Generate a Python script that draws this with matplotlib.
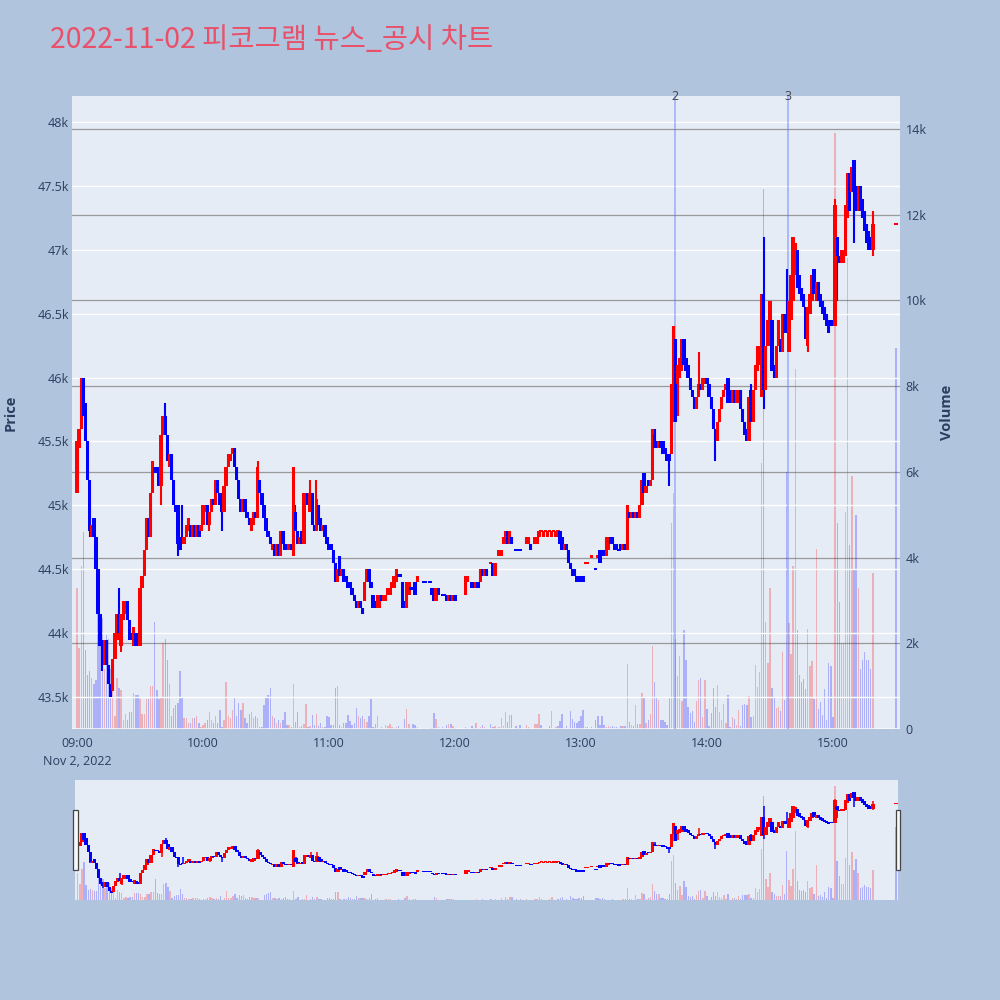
import numpy as np
import matplotlib.pyplot as plt
from matplotlib.patches import Rectangle

plt.rcParams['font.family'] = ['Open Sans', 'DejaVu Sans']

N = None
# 1-minute candles, index = minutes after 09:00 (None = no trade that minute)
opens = [
    45100, 45450, 45600, 46000, 45800, 45500, 45200, 44750, 44900, 44750,
    44500, 44150, 43950, 43750, 43950, 43750, 43600, 43550, 43800, 43950,
    44150, 43900, 44100, 44150, 44250, 44100, 44000, 43900, 44000, 43950,
    43900, 44350, 44450, 44650, 44900, 44750, 45100, 45300, 45300, 45250,
    45150, 45550, 45700, 45550, 45300, 45400, 45200, 45000, 45000, 44700,
    44750, 44700, 44750, 44800, 44850, 44750, 44850, 44750, 44850, 44800,
    44850, 44950, 45000, 44850, 44950, 45050, 45000, 45200, 45100, 45000,
    44950, 45150, 45300, 45350, 45400, 45450, 45300, 45200, 45050, 44950,
    45050, 44950, 44900, 44800, 44850, 44950, 44900, 45200, 45100, 45000,
    44900, 44800, 44750, 44650, 44700, 44600, 44700, 44600, 44800, 44700,
    44700, 44650, 44700, 44600, 44950, 44800, 44700, 44800, 44700, 45000,
    45100, 44950, 45100, 44850, 44800, 45000, 44900, 44800, 44850, 44750,
    44700, 44700, 44650, 44550, 44400, 44600, 44450, 44500, 44450, 44400,
    44400, 44350, 44300, 44250, 44200, 44250, 44200, 44250, 44400, 44500,
    44400, 44300, 44250, 44200, 44200, 44300, 44250, 44250, 44300, 44300,
    44350, 44350, 44400, 44450, 44450, 44400, 44250, 44200, 44300, 44350,
    44350, 44400, 44400, N, N, 44400, 44400, N, 44400, 44350,
    44300, 44250, 44350, N, 44300, 44300, 44300, 44250, 44300, 44250,
    44300, N, N, N, N, 44300, 44400, N, 44400, 44400,
    44350, 44400, 44400, 44500, 44450, 44500, N, 44550, 44550, 44450,
    N, 44600, 44600, 44700, 44700, 44800, 44700, 44750, N, 44650,
    44650, 44650, N, N, 44700, 44700, 44700, N, 44700, 44700,
    44750, 44800, 44750, 44800, 44750, 44800, 44750, 44800, 44750, 44800,
    44800, 44750, 44650, 44700, 44650, 44550, 44500, 44500, 44450, 44450,
    44450, 44450, 44550, 44550, N, 44600, N, 44500, 44600, 44650,
    44650, 44650, 44600, 44650, 44750, 44750, 44700, 44700, 44650, 44700,
    44650, 44700, 44650, 44950, 44900, 44950, 44900, 44950, 44900, 45000,
    45250, 45100, 45200, 45150, 45200, 45550, 45500, 45450, 45500, 45500,
    45450, 45400, 45400, 45400, 45950, 46300, 45950, 46000, 46050, 46300,
    46150, 46100, 46000, 45900, 45850, 45750, 45850, 45950, 45900, 45950,
    46000, 45950, 45850, 45750, 45600, 45500, 45650, 45750, 45850, 45900,
    46000, 45900, 45800, 45900, 45800, 45800, 45900, 45750, 45650, 45600,
    45500, 45900, 45650, 45900, 46050, 46100, 45850, 46650, 45900, 46250,
    46400, 46450, 46100, 46000, 46250, 46300, 46200, 46500, 46500, 46200,
    46450, 46600, 46800, 47000, 46800, 46700, 46650, 46550, 46250, 46500,
    46600, 46850, 46600, 46750, 46650, 46600, 46550, 46500, 46450, 46450,
    46450, 46400, 47100, 46950, 46900, 46900, 46950, 47250, 47600, 47450,
    47700, 47500, 47300, 47500, 47400, 47300, 47200, 47150, 47100, 47000,
    N, N, N, N, N, N, N, N, N, N,
    47200,
]
closes = [
    45500, 45600, 46000, 45700, 45500, 45200, 44800, 44850, 44750, 44500,
    44150, 43900, 43800, 43950, 43750, 43600, 43500, 43800, 44000, 44150,
    44000, 44150, 44250, 44250, 44100, 43950, 43950, 44050, 43900, 43900,
    44350, 44450, 44650, 44900, 44750, 45100, 45350, 45250, 45250, 45150,
    45550, 45700, 45550, 45350, 45400, 45200, 45000, 44950, 44700, 44650,
    44700, 44750, 44850, 44900, 44750, 44850, 44750, 44850, 44750, 44850,
    45000, 45000, 44850, 44950, 45050, 45000, 45200, 45100, 45000, 44950,
    45150, 45300, 45400, 45400, 45450, 45300, 45200, 45050, 44950, 45050,
    44950, 44900, 44850, 44900, 44950, 44900, 45300, 45100, 45000, 44900,
    44800, 44750, 44700, 44700, 44600, 44700, 44600, 44800, 44700, 44650,
    44650, 44700, 44650, 45300, 44800, 44700, 44750, 44700, 45100, 45100,
    45000, 45100, 44850, 44800, 45050, 44850, 44800, 44850, 44750, 44700,
    44650, 44650, 44550, 44400, 44500, 44450, 44500, 44400, 44400, 44350,
    44350, 44300, 44250, 44200, 44250, 44200, 44150, 44400, 44500, 44400,
    44350, 44200, 44200, 44300, 44300, 44250, 44300, 44300, 44350, 44350,
    44400, 44450, 44500, 44450, 44450, 44200, 44200, 44400, 44400, 44350,
    44350, 44300, 44450, N, N, 44400, 44400, N, 44400, 44300,
    44250, 44350, 44300, N, 44300, 44300, 44250, 44300, 44250, 44300,
    44250, N, N, N, N, 44450, 44450, N, 44350, 44350,
    44400, 44350, 44500, 44450, 44500, 44450, N, 44550, 44450, 44550,
    N, 44650, 44650, 44750, 44800, 44700, 44800, 44700, N, 44650,
    44650, 44650, N, N, 44750, 44750, 44650, N, 44750, 44750,
    44800, 44800, 44800, 44800, 44800, 44800, 44800, 44800, 44800, 44800,
    44700, 44650, 44700, 44650, 44550, 44500, 44450, 44450, 44400, 44400,
    44400, 44400, 44550, 44550, N, 44600, N, 44500, 44600, 44550,
    44600, 44600, 44750, 44750, 44700, 44700, 44650, 44650, 44650, 44650,
    44700, 44650, 45000, 44900, 44950, 44900, 44950, 44900, 45000, 45200,
    45100, 45150, 45150, 45200, 45600, 45450, 45450, 45500, 45450, 45400,
    45400, 45350, 45350, 45950, 46400, 45650, 46100, 46150, 46300, 46100,
    46050, 46000, 45900, 45850, 45750, 45850, 45950, 45900, 46000, 46000,
    45950, 45850, 45750, 45600, 45500, 45650, 45750, 45850, 45900, 45950,
    45800, 45800, 45900, 45800, 45900, 45900, 45750, 45650, 45550, 45500,
    45850, 45650, 45900, 46100, 46250, 46250, 46650, 45900, 46250, 46450,
    46600, 46050, 46000, 46250, 46450, 46200, 46500, 46350, 46350, 46600,
    46800, 47100, 47050, 46700, 46650, 46600, 46550, 46300, 46550, 46650,
    46800, 46650, 46750, 46600, 46550, 46500, 46450, 46400, 46350, 46400,
    46400, 47350, 46950, 46900, 47000, 47000, 47350, 47600, 47300, 47650,
    47450, 47300, 47500, 47300, 47250, 47150, 47050, 47000, 47000, 47200,
    N, N, N, N, N, N, N, N, N, N,
    47200,
]
# shadows reaching past the body: minute -> price
wick_high = {20: 44350, 42: 45800, 50: 45000, 86: 45350, 104: 45000, 111: 45200,
             114: 45200, 125: 44600, 275: 45600, 296: 46200, 321: 45950,
             327: 47100, 338: 46850, 361: 47400, 379: 47300}
wick_low = {6: 44750, 12: 43700, 21: 43850, 40: 45000, 48: 44600, 63: 44800,
            69: 44800, 282: 45150, 284: 45650, 286: 45700, 304: 45350,
            327: 45750, 348: 46200, 362: 46600, 370: 47050, 379: 46950}
volumes = [
    3300, 1900, 3800, 4600, 1850, 1250, 1350, 1200, 1050, 1150,
    2700, 2600, 2600, 1400, 2200, 2100, 1400, 1200, 300, 1200,
    950, 900, 200, 350, 200, 400, 400, 850, 800, 800,
    700, 350, 350, 700, 700, 1000, 1000, 2500, 900, 700,
    750, 2000, 2100, 1600, 1050, 300, 500, 550, 600, 1350,
    750, 250, 250, 150, 150, 250, 250, 300, 150, 50,
    100, 150, 200, 400, 200, 150, 300, 150, 450, 50,
    200, 1100, 300, 250, 450, 750, 300, 600, 450, 600,
    250, 150, 350, 400, 250, 300, 250, 50, 50, 550,
    750, 800, 950, 300, 250, 150, 200, 150, 200, 400,
    100, 100, 50, 1040, 170, 400, 50, 70, 120, 580,
    50, 70, 330, 100, 350, 70, 130, 50, 40, 300,
    290, 100, 100, 960, 1010, 100, 50, 150, 150, 330,
    190, 100, 130, 500, 300, 250, 300, 230, 170, 300,
    690, 50, 120, 300, 20, 40, 30, 100, 70, 110,
    40, 30, 50, 70, 20, 30, 240, 460, 110, 20,
    120, 100, 40, 0, 0, 20, 20, 0, 20, 30,
    370, 230, 40, 0, 40, 20, 100, 120, 120, 70,
    30, 0, 0, 0, 0, 40, 30, 0, 60, 30,
    130, 30, 40, 100, 40, 30, 0, 120, 40, 70,
    0, 40, 260, 60, 390, 160, 330, 330, 0, 70,
    30, 100, 0, 0, 90, 40, 30, 0, 120, 120,
    350, 90, 30, 20, 30, 70, 410, 30, 40, 70,
    190, 350, 30, 70, 30, 430, 230, 160, 130, 190,
    300, 440, 40, 40, 0, 40, 0, 210, 300, 100,
    300, 100, 40, 60, 50, 70, 40, 40, 30, 60,
    70, 70, 1520, 170, 100, 60, 560, 120, 120, 850,
    740, 130, 200, 350, 1940, 1100, 720, 680, 210, 210,
    170, 100, 740, 4800, 5500, 2100, 1240, 1700, 650, 2300,
    1600, 520, 380, 430, 160, 660, 1140, 1180, 290, 1140,
    470, 60, 370, 950, 510, 1020, 400, 210, 580, 130,
    790, 50, 270, 230, 90, 440, 80, 560, 580, 570,
    770, 290, 300, 1500, 990, 1340, 6200, 12600, 2500, 1530,
    3300, 950, 740, 480, 520, 430, 1800, 680, 6000, 2480,
    1740, 3800, 8400, 2300, 1260, 1100, 1170, 930, 2330, 1480,
    1590, 700, 4200, 460, 620, 330, 930, 200, 1530, 1470,
    270, 13900, 4800, 2960, 2000, 2000, 5070, 11000, 4300, 5900,
    3700, 5000, 3300, 1400, 1600, 1800, 1600, 1600, 1400, 3650,
    0, 0, 0, 0, 0, 0, 0, 0, 0, 0,
    8900,
]
news_minutes = [284.8, 338.6]   # news / disclosure times (minutes after 09:00)
news_labels = ['2', '3']

price_ticks = [43500, 44000, 44500, 45000, 45500, 46000, 46500, 47000, 47500, 48000]
price_labels = ['43.5k', '44k', '44.5k', '45k', '45.5k', '46k', '46.5k', '47k', '47.5k', '48k']
vol_ticks = [0, 2000, 4000, 6000, 8000, 10000, 12000, 14000]
vol_labels = ['0', '2k', '4k', '6k', '8k', '10k', '12k', '14k']
time_ticks = [0, 60, 120, 180, 240, 300, 360]
time_labels = ['09:00\nNov 2, 2022', '10:00', '11:00', '12:00', '13:00', '14:00', '15:00']

RED, BLUE = '#ff0000', '#0000ff'
RED_V, BLUE_V = (1, 0, 0, 0.25), (0, 0, 1, 0.25)
BG = '#b0c4de'
PLOT_BG = '#e5ecf6'
FONT_C = '#2a3f5f'

o = np.array(opens, dtype=float)
c = np.array(closes, dtype=float)
v = np.array(volumes, dtype=float)
x = np.arange(len(o))
ok = ~np.isnan(c)
hi = np.fmax(o, c)
lo = np.fmin(o, c)
for m, h in wick_high.items():
    hi[m] = max(hi[m], h)
for m, l in wick_low.items():
    lo[m] = min(lo[m], l)

# candle direction (equal open/close follows change from previous close)
up = np.zeros(len(o), dtype=bool)
prev_c, prev_up = None, True
for i in np.where(ok)[0]:
    if c[i] > o[i]:
        u = True
    elif c[i] < o[i]:
        u = False
    elif prev_c is not None and c[i] != prev_c:
        u = c[i] > prev_c
    else:
        u = prev_up
    up[i] = u
    prev_c, prev_up = c[i], u
vol_up = c > o


def draw(axp, axv, wick_lw, body_w, min_h, bar_w):
    vcols = [RED_V if vol_up[i] else BLUE_V for i in x[ok]]
    axv.bar(x[ok], v[ok], width=bar_w, color=vcols, linewidth=0)
    cols = [RED if up[i] else BLUE for i in x[ok]]
    axp.vlines(x[ok], lo[ok], hi[ok], colors=cols, lw=wick_lw, zorder=3)
    body = np.abs(c - o)[ok]
    h = np.maximum(body, min_h)
    bottom = np.fmin(o, c)[ok] - (h - body) / 2
    axp.bar(x[ok], h, width=body_w, bottom=bottom, color=cols, linewidth=0, zorder=3)


fig = plt.figure(figsize=(10, 10), dpi=100, facecolor=BG)

# main chart
axv = fig.add_axes([0.072, 0.271, 0.828, 0.633])
ax = axv.twinx()
axv.set_facecolor(PLOT_BG)
ax.patch.set_visible(False)
ax.yaxis.tick_left()
axv.yaxis.tick_right()
ax.set_zorder(axv.get_zorder() + 1)

draw(ax, axv, 1.5, 1.6, 18, 0.65)

ax.set_xlim(-2.4, 391.9)
ax.set_ylim(43250, 48203)
axv.set_ylim(0, 14770)

ax.set_yticks(price_ticks)
ax.set_yticklabels(price_labels)
axv.set_yticks(vol_ticks)
axv.set_yticklabels(vol_labels)
axv.set_xticks(time_ticks)
axv.set_xticklabels(time_labels, linespacing=1.45)

ax.grid(axis='y', color='white', lw=1)
axv.grid(axis='y', color='#9a9a9a', lw=0.9)
axv.set_axisbelow(True)
axv.axhline(0, color='white', lw=1.8, zorder=1)

for a in (ax, axv):
    for s in a.spines.values():
        s.set_visible(False)
ax.tick_params(axis='y', length=0, pad=2, labelsize=9, labelcolor=FONT_C)
axv.tick_params(axis='y', length=0, pad=4, labelsize=9, labelcolor=FONT_C)
axv.tick_params(axis='x', length=0, pad=6, labelsize=9, labelcolor=FONT_C)
ax.tick_params(axis='x', length=0, labelbottom=False)

for m, lab in zip(news_minutes, news_labels):
    ax.axvline(m, color=(0.35, 0.45, 1.0), alpha=0.45, lw=1.3, zorder=2)
    ax.text(m, 1.0, lab, transform=ax.get_xaxis_transform(), ha='center',
            va='center', fontsize=9, color='#444444')

fig.text(0.011, 0.5875, 'Price', rotation=90, ha='center', va='center',
         fontsize=10.5, fontweight='bold', color=FONT_C)
fig.text(0.947, 0.5875, 'Volume', rotation=90, ha='center', va='center',
         fontsize=10.5, fontweight='bold', color=FONT_C)

fig.text(0.05, 0.96, '2022-11-02 피코그램 뉴스_공시 차트', ha='left', va='center',
         fontsize=20.5, color='#e9506a', family=['Noto Sans CJK KR', 'DejaVu Sans'])

# range slider
sv = fig.add_axes([0.075, 0.1, 0.823, 0.12])
sp = sv.twinx()
sv.set_facecolor(PLOT_BG)
sp.patch.set_visible(False)
sp.set_zorder(sv.get_zorder() + 1)
draw(sp, sv, 1.1, 1.6, 40, 0.65)
sp.set_xlim(-1.3, 391.0)
sp.set_ylim(43223, 48183)
sv.set_ylim(0, 14600)
for a in (sv, sp):
    a.set_xticks([])
    a.set_yticks([])
    for s in a.spines.values():
        s.set_visible(False)

for hx in (0.073, 0.8955):
    fig.patches.append(Rectangle((hx, 0.13), 0.0045, 0.06, transform=fig.transFigure,
                                 facecolor='#f8f8f8', edgecolor='#444444', lw=0.9))

fig.savefig('out.png', dpi=100, facecolor=BG)
